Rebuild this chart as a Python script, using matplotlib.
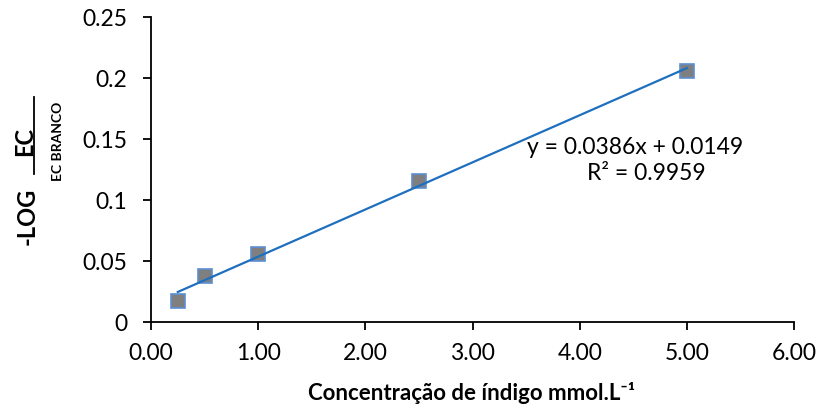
import numpy as np
from matplotlib import pyplot as plt
from matplotlib.lines import Line2D

concentracao = [0.25, 0.5, 1.0, 2.5, 5.0]
absorbancia = [0.0175, 0.0377, 0.0557, 0.1156, 0.2057]
x_ticks = [0, 1, 2, 3, 4, 5, 6]
y_ticks = [0, 0.05, 0.1, 0.15, 0.2, 0.25]
y_tick_labels = ["0", "0.05", "0.1", "0.15", "0.2", "0.25"]

plt.rcParams['font.family'] = ['Lato', 'DejaVu Sans']

fig = plt.figure(figsize=(8.18, 4.13), dpi=100)
ax = fig.add_axes([0.1846, 0.2203, 0.7861, 0.7385])

# linear trendline like Excel
a, b = np.polyfit(concentracao, absorbancia, 1)
xs = np.array([min(concentracao), max(concentracao)])
ax.plot(concentracao, absorbancia, linestyle="none", marker="s", markersize=9.5,
        markerfacecolor="#7f7f7f", markeredgecolor="#5b8fd4", markeredgewidth=1.2, zorder=3)
ax.plot(xs, a * xs + b, color="#1f6fbf", linewidth=1.6, zorder=4)

ax.set_xlim(0, 6)
ax.set_ylim(0, 0.25)
ax.set_xticks(x_ticks)
ax.set_xticklabels([f"{t:.2f}" for t in x_ticks])
ax.set_yticks(y_ticks)
ax.set_yticklabels(y_tick_labels)
ax.tick_params(axis="x", direction="out", length=6, width=1.3, labelsize=16.5, pad=9)
ax.tick_params(axis="y", direction="out", length=6, width=1.3, labelsize=16.5, pad=11)
for side in ["top", "right"]:
    ax.spines[side].set_visible(False)
for side in ["left", "bottom"]:
    ax.spines[side].set_linewidth(1.3)

fig.text(635 / 818, 1 - 147 / 413, "y = 0.0386x + 0.0149", fontsize=16.5,
         ha="center", va="center")
fig.text(646 / 818, 1 - 174 / 413, "R² = 0.9959", fontsize=16.5,
         ha="center", va="center")

fig.text(472 / 818, 1 - 393 / 413, "Concentração de índigo mmol.L⁻¹", fontsize=16,
         fontweight="bold", ha="center", va="center")

# y label built as -LOG EC / EC BRANCO
fig.text(27 / 818, 1 - 216 / 413, "-LOG", fontsize=17, fontweight="bold",
         rotation=90, ha="center", va="center")
fig.text(25 / 818, 1 - 141 / 413, "EC", fontsize=17, fontweight="bold",
         rotation=90, ha="center", va="center")
fig.add_artist(Line2D([34 / 818, 34 / 818], [1 - 97 / 413, 1 - 174 / 413],
                      transform=fig.transFigure, color="black", linewidth=1.3))
fig.text(58 / 818, 1 - 141 / 413, "EC BRANCO", fontsize=10, fontweight="bold",
         rotation=90, ha="center", va="center")

fig.savefig("out.png", dpi=100)
